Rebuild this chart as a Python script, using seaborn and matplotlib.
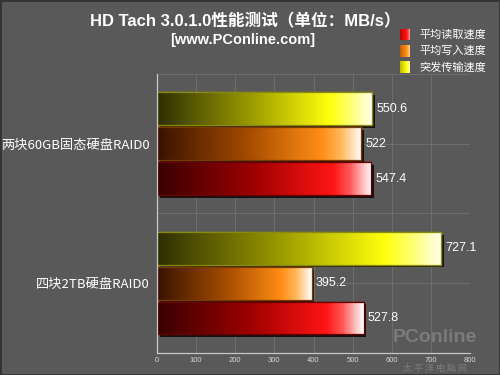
import numpy as np
import pandas as pd
import matplotlib
matplotlib.use("Agg")
import matplotlib.pyplot as plt
import seaborn as sns
from matplotlib.colors import LinearSegmentedColormap
from matplotlib import patheffects as pe
from matplotlib.patches import Rectangle

# ---- data ----
categories = ["两块60GB固态硬盘RAID0", "四块2TB硬盘RAID0"]
series = ["突发传输速度", "平均写入速度", "平均读取速度"]
burst_speed = [550.6, 727.1]
write_speed = [522, 395.2]
read_speed = [547.4, 527.8]
legend_order = ["平均读取速度", "平均写入速度", "突发传输速度"]
x_ticks = [0, 100, 200, 300, 400, 500, 600, 700, 800]

values = {"突发传输速度": burst_speed, "平均写入速度": write_speed, "平均读取速度": read_speed}
rows = []
for s in series:
    for c, v in zip(categories, values[s]):
        rows.append({"category": c, "series": s, "value": v})
df = pd.DataFrame(rows)

sns.set_theme(style="dark")
plt.rcParams['font.family'] = ['Noto Sans CJK SC', 'DejaVu Sans']

BG = "#595959"
base_colors = {"突发传输速度": "#f0f000", "平均写入速度": "#ff8c10", "平均读取速度": "#ff1010"}
edge_colors = {"突发传输速度": "#8a8a10", "平均写入速度": "#7a3a00", "平均读取速度": "#6a0000"}
cmaps = {
    "突发传输速度": LinearSegmentedColormap.from_list("y", [(0, (0.18, 0.18, 0.02)), (0.45, (0.62, 0.62, 0.0)), (0.8, (1, 1, 0.05)), (0.9, (1, 1, 0.45)), (1, (1, 1, 0.95))]),
    "平均写入速度": LinearSegmentedColormap.from_list("o", [(0, (0.22, 0.07, 0.0)), (0.45, (0.65, 0.3, 0.0)), (0.8, (1, 0.55, 0.08)), (0.9, (1, 0.72, 0.35)), (1, (1, 1, 1))]),
    "平均读取速度": LinearSegmentedColormap.from_list("r", [(0, (0.22, 0.0, 0.0)), (0.45, (0.62, 0.0, 0.0)), (0.82, (1, 0.08, 0.08)), (0.9, (1, 0.35, 0.35)), (1, (1, 1, 1))]),
}

fig = plt.figure(figsize=(5, 3.75), dpi=100, facecolor=BG)
ax = fig.add_axes([0.314, 0.059, 0.626, 0.744])
ax.set_facecolor(BG)

sns.barplot(data=df, y="category", x="value", hue="series", hue_order=series,
            order=categories, orient="h", width=0.75, gap=0.06,
            palette=base_colors, legend=False, ax=ax, saturation=1)

grad = np.linspace(0, 1, 256).reshape(1, -1)
for s, cont in zip(series, ax.containers):
    for p in cont.patches:
        p.set_edgecolor(edge_colors[s])
        p.set_linewidth(1.0)
        p.set_path_effects([pe.SimplePatchShadow(offset=(2, -2), shadow_rgbFace="black", alpha=0.8), pe.Normal()])
        x0, y0, w, h = p.get_x(), p.get_y(), p.get_width(), p.get_height()
        im = ax.imshow(grad, cmap=cmaps[s], aspect="auto", extent=[x0, x0 + w, y0 + h, y0],
                       zorder=p.get_zorder() + 0.1, interpolation="bilinear")
        im.set_clip_path(p)
        edge = Rectangle((x0, y0), w, h, fill=False, edgecolor=edge_colors[s], lw=0.9,
                         zorder=p.get_zorder() + 0.2)
        ax.add_patch(edge)
    ax.bar_label(cont, labels=[f"{v:g}" for v in cont.datavalues], padding=3,
                 color="white", fontsize=9, family=["Liberation Sans", "DejaVu Sans"])

ax.set_xlim(0, 800)
ax.set_ylim(1.5, -0.5)
ax.set_xticks(x_ticks)
ax.set_xticklabels([str(t) for t in x_ticks], color="#d8d8d8", fontsize=5.5,
                   family=["Liberation Sans", "DejaVu Sans"])
ax.set_yticks(range(len(categories)))
ax.set_yticklabels(categories, color="white", fontsize=9.5)
ax.set_yticks([-0.5, 0.5, 1.5], minor=True)
ax.tick_params(axis="x", length=2, color="#bbbbbb", pad=1)
ax.tick_params(axis="y", length=0, pad=5)
ax.set_xlabel("")
ax.set_ylabel("")
ax.grid(True, axis="x", color="#6e6e6e", lw=0.7)
ax.grid(True, axis="y", which="both", color="#6e6e6e", lw=0.7)
ax.set_axisbelow(True)
for side in ["top", "right"]:
    ax.spines[side].set_visible(False)
for side in ["left", "bottom"]:
    ax.spines[side].set_visible(True)
    ax.spines[side].set_color("#c8c8c8")
    ax.spines[side].set_linewidth(0.9)

# title
fig.text(0.49, 0.942, "HD Tach 3.0.1.0性能测试（单位：MB/s）", ha="center", va="center",
         color="white", fontsize=12, fontweight="bold",
         family=["Liberation Sans", "Noto Sans CJK SC"])
fig.text(0.485, 0.893, "[www.PConline.com]", ha="center", va="center",
         color="white", fontsize=10.5, fontweight="bold", family=["Liberation Sans", "DejaVu Sans"])

# legend
for i, s in enumerate(legend_order):
    yc = 0.907 - i * 0.043
    lax = fig.add_axes([0.8, yc - 0.015, 0.018, 0.03])
    lax.imshow(grad, cmap=cmaps[s], aspect="auto", extent=[0, 1, 0, 1])
    lax.set_xlim(0.55, 0.95)
    lax.set_axis_off()
    fig.text(0.838, yc, s, ha="left", va="center", color="white", fontsize=8)

# watermark
fig.text(0.87, 0.1, "PConline", ha="center", va="center", color="#8a8a8a",
         fontsize=14, fontweight="bold", alpha=0.7, family=["Liberation Sans", "DejaVu Sans"])
fig.text(0.87, 0.018, "太 平 洋 电 脑 网", ha="center", va="center", color="#8a8a8a",
         fontsize=6.5, alpha=0.7)

fig.patches.append(Rectangle((0, 0), 1, 1, transform=fig.transFigure, fill=False,
                             edgecolor="#333333", lw=2))

fig.savefig("out.png", dpi=100, facecolor=BG)
